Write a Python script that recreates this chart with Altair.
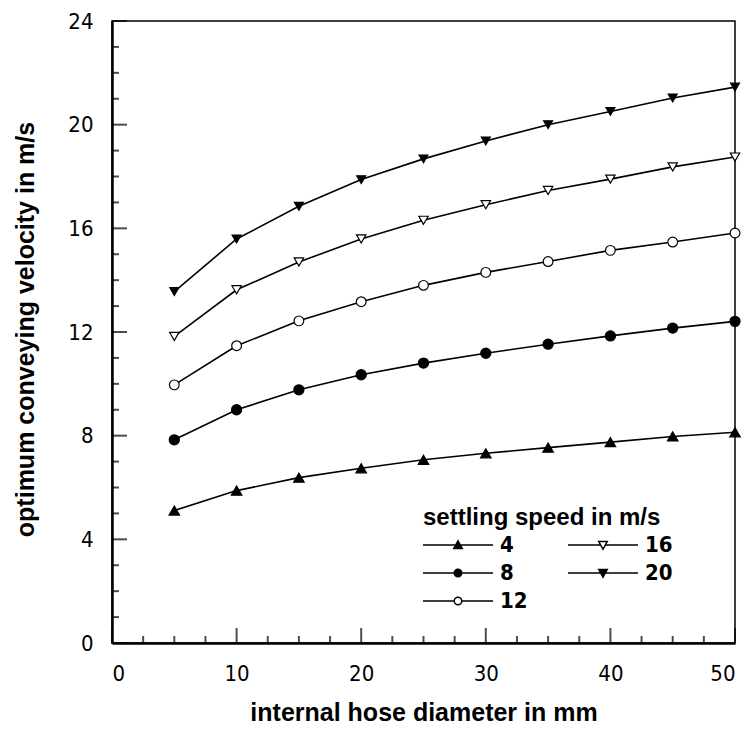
import altair as alt
import pandas as pd

# ---- data ----
diameter = [5, 10, 15, 20, 25, 30, 35, 40, 45, 50]
v4 = [5.11, 5.88, 6.38, 6.74, 7.07, 7.32, 7.54, 7.75, 7.97, 8.13]
v8 = [7.84, 9.00, 9.77, 10.35, 10.80, 11.18, 11.53, 11.85, 12.15, 12.41]
v12 = [9.96, 11.47, 12.43, 13.17, 13.80, 14.30, 14.72, 15.15, 15.47, 15.82]
v16 = [11.83, 13.63, 14.70, 15.59, 16.31, 16.91, 17.46, 17.90, 18.37, 18.75]
v20 = [13.56, 15.59, 16.85, 17.88, 18.68, 19.37, 20.00, 20.51, 21.03, 21.45]
series = ["4", "8", "12", "16", "20"]
x_ticks = [0, 10, 20, 30, 40, 50]
x_minor = [2.5, 5, 7.5, 12.5, 15, 17.5, 22.5, 25, 27.5, 32.5, 35, 37.5, 42.5, 45, 47.5]
y_ticks = [0, 4, 8, 12, 16, 20, 24]
y_minor = [1, 2, 3, 5, 6, 7, 9, 10, 11, 13, 14, 15, 17, 18, 19, 21, 22, 23]

rows = []
for s, vals in zip(series, [v4, v8, v12, v16, v20]):
    for d, v in zip(diameter, vals):
        rows.append({"d": d, "v": v, "s": s})
df = pd.DataFrame(rows)

NARROW = "Liberation Sans Narrow, DejaVu Sans Condensed, Liberation Sans, sans-serif"
BOLD = "Liberation Sans, Arial, sans-serif"

xs = alt.Scale(domain=[0, 50], nice=False, zero=False)
ys = alt.Scale(domain=[0, 24], nice=False, zero=False)

x_axis = alt.Axis(values=x_ticks, grid=False, ticks=False, tickSize=0, domainColor="black",
                  domainWidth=2.5, labelFont=NARROW, labelFontSize=22, labelColor="black",
                  labelPadding=20, title="internal hose diameter in mm", titleFont=BOLD,
                  titleFontSize=25, titleFontWeight="bold", titleColor="black",
                  titleBaseline="middle", titleY=69)
y_axis = alt.Axis(values=y_ticks, grid=False, ticks=False, tickSize=0, domainColor="black",
                  domainWidth=2.5, labelFont=NARROW, labelFontSize=22, labelColor="black",
                  labelPadding=19, title="optimum conveying velocity in m/s", titleFont=BOLD,
                  titleFontSize=25, titleFontWeight="bold", titleColor="black",
                  titleBaseline="middle", titleX=-87, titleY=308, titleAngle=-90)

base = alt.Chart(df)

lines = base.mark_line(color="black", strokeWidth=1.6).encode(
    x=alt.X("d:Q", scale=xs, axis=x_axis),
    y=alt.Y("v:Q", scale=ys, axis=y_axis),
    detail="s:N",
)

plot_shapes = ["triangle-up", "circle", "circle", "triangle-down", "triangle-down"]
plot_fills = ["black", "black", "white", "white", "black"]
plot_sizes = [110, 80, 55, 95, 130]

points = base.mark_point(filled=True, stroke="black", strokeWidth=1.2, opacity=1).encode(
    x=alt.X("d:Q", scale=xs),
    y=alt.Y("v:Q", scale=ys),
    shape=alt.Shape("s:N", scale=alt.Scale(domain=series, range=plot_shapes), legend=None),
    fill=alt.Fill("s:N", scale=alt.Scale(domain=series, range=plot_fills), legend=None),
    size=alt.Size("s:N", scale=alt.Scale(domain=series, range=plot_sizes), legend=None),
)

# legend-only layer (no marks drawn; legend built from explicit domain)
leg_paths = [
    "M-7,0H7M0,-0.85L0.85,0.7L-0.85,0.7Z",
    "M-7,0H7M-0.75,0A0.75,0.75,0,1,0,0.75,0A0.75,0.75,0,1,0,-0.75,0Z",
    "M-7,0H-0.75M0.75,0H7M-0.75,0A0.75,0.75,0,1,0,0.75,0A0.75,0.75,0,1,0,-0.75,0Z",
    "M-7,0H-0.48M0.48,0H7M-0.85,-0.7L0.85,-0.7L0,0.85Z",
    "M-7,0H7M-0.85,-0.7L0.85,-0.7L0,0.85Z",
]
leg_fills = ["black", "black", "white", "white", "black"]
leg_strokes = ["black", "black", "black", "black", "black"]
legend = alt.Legend(
    orient="none", legendX=311, legendY=485, columns=2, direction="vertical",
    title="settling speed in m/s", titleFont=BOLD, titleFontSize=24, titleFontWeight="bold",
    titleColor="black", titlePadding=4, titleLimit=500, labelFont=NARROW, labelFontSize=22,
    labelFontWeight="bold", labelColor="black", symbolSize=100, symbolOffset=24,
    labelOffset=31, rowPadding=6, columnPadding=37, symbolStrokeColor="black",
    symbolStrokeWidth=1.5, symbolOpacity=1, padding=0,
)
leg_layer = base.transform_filter("datum.d < 0").mark_point(
    filled=False, stroke="black", strokeWidth=1.5
).encode(
    x=alt.X("d:Q", scale=xs),
    y=alt.Y("v:Q", scale=ys),
    shape=alt.Shape("s:N", scale=alt.Scale(domain=series, range=leg_paths), legend=legend),
    fill=alt.Fill("s:N", scale=alt.Scale(domain=series, range=leg_fills), legend=legend),
    stroke=alt.Stroke("s:N", scale=alt.Scale(domain=series, range=leg_strokes), legend=legend),
)

# inward tick marks
xt_major = alt.Chart(pd.DataFrame({"t": x_ticks})).mark_tick(
    orient="vertical", size=15, thickness=2, color="black", yOffset=-7.5
).encode(x=alt.X("t:Q", scale=xs), y=alt.datum(0, scale=ys))
xt_minor = alt.Chart(pd.DataFrame({"t": x_minor})).mark_tick(
    orient="vertical", size=7, thickness=2, color="black", yOffset=-3.5
).encode(x=alt.X("t:Q", scale=xs), y=alt.datum(0, scale=ys))
yt_major = alt.Chart(pd.DataFrame({"t": y_ticks})).mark_tick(
    orient="horizontal", size=15, thickness=2, color="black", xOffset=7.5
).encode(y=alt.Y("t:Q", scale=ys), x=alt.datum(0, scale=xs))
yt_minor = alt.Chart(pd.DataFrame({"t": y_minor})).mark_tick(
    orient="horizontal", size=7, thickness=2, color="black", xOffset=3.5
).encode(y=alt.Y("t:Q", scale=ys), x=alt.datum(0, scale=xs))

chart = alt.layer(
    xt_major, xt_minor, yt_major, yt_minor, lines, points, leg_layer
).resolve_scale(
    shape="independent", fill="independent", size="independent", stroke="independent"
).properties(
    width=623, height=622,
    padding={"left": 112, "top": 21, "right": 12, "bottom": 88},
    autosize=alt.AutoSizeParams(type="none"),
    background="white",
).configure_view(stroke="black", strokeWidth=1.5)

chart.save("out.html", embed_options={"renderer": "svg", "actions": False})
